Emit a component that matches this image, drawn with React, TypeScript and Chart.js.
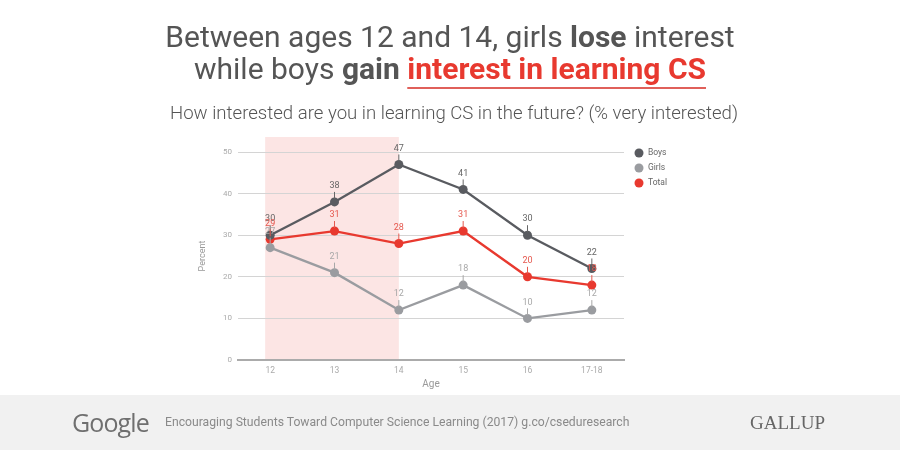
import React, { useEffect, useRef } from "react";
import { Chart, registerables } from "chart.js";
Chart.register(...registerables);

const ages = ["12", "13", "14", "15", "16", "17-18"];
const boys = [30, 38, 47, 41, 30, 22];
const girls = [27, 21, 12, 18, 10, 12];
const total = [29, 31, 28, 31, 20, 18];
const seriesNames = ["Boys", "Girls", "Total"];
const highlightFrom = "12";
const highlightTo = "14";

const lineColors = ["#595b60", "#9a9ca0", "#e8392f"];
const labelColors = ["#666666", "#a8a8a8", "#e5584e"];
const FONT = "Roboto, 'Open Sans', sans-serif";

const shadePlugin = {
  id: "shade",
  beforeDraw(chart: any) {
    const { ctx, scales, chartArea } = chart;
    const x = scales.x;
    const y = scales.y;
    const x0 = x.getPixelForValue(ages.indexOf(highlightFrom)) - 5;
    const x1 = x.getPixelForValue(ages.indexOf(highlightTo));
    const top = chartArea.top - 15;
    const bottom = y.getPixelForValue(0);
    ctx.save();
    ctx.fillStyle = "#fce5e4";
    ctx.fillRect(x0, top, x1 - x0, bottom - top);
    ctx.restore();
  },
};

const labelPlugin = {
  id: "ptlabels",
  afterDatasetsDraw(chart: any) {
    const { ctx } = chart;
    ctx.save();
    ctx.font = `9px ${FONT}`;
    ctx.textAlign = "center";
    ctx.textBaseline = "middle";
    chart.data.datasets.forEach((ds: any, i: number) => {
      const meta = chart.getDatasetMeta(i);
      meta.data.forEach((pt: any, j: number) => {
        const c = labelColors[i];
        const ly = pt.y - 16;
        ctx.strokeStyle = c;
        ctx.lineWidth = 1;
        ctx.beginPath();
        ctx.moveTo(pt.x, ly + 6);
        ctx.lineTo(pt.x, pt.y - 3);
        ctx.stroke();
        ctx.fillStyle = c;
        ctx.fillText(String(ds.data[j]), pt.x, ly);
      });
    });
    ctx.restore();
  },
};

const legendPlugin = {
  id: "customLegend",
  afterDraw(chart: any) {
    const { ctx } = chart;
    ctx.save();
    ctx.font = `8.5px ${FONT}`;
    ctx.textAlign = "left";
    ctx.textBaseline = "middle";
    seriesNames.forEach((name, i) => {
      const cy = 153 + i * 15;
      ctx.fillStyle = lineColors[i];
      ctx.beginPath();
      ctx.arc(639, cy, 4.5, 0, Math.PI * 2);
      ctx.fill();
      ctx.fillStyle = "#666";
      ctx.fillText(name, 648, cy);
    });
    ctx.restore();
  },
};

function LineChart() {
  const ref = useRef<HTMLCanvasElement>(null);
  useEffect(() => {
    if (!ref.current) return;
    const series = [boys, girls, total];
    const chart = new Chart(ref.current, {
      type: "line",
      data: {
        labels: ages,
        datasets: series.map((d, i) => ({
          label: seriesNames[i],
          data: d,
          borderColor: lineColors[i],
          backgroundColor: lineColors[i],
          pointBackgroundColor: lineColors[i],
          pointBorderWidth: 0,
          pointRadius: 4.5,
          borderWidth: 2.3,
          tension: 0,
          clip: false as any,
        })),
      },
      options: {
        responsive: false,
        animation: false,
        devicePixelRatio: 1,
        layout: { padding: { left: 195, right: 276, top: 152, bottom: 58 } },
        plugins: { legend: { display: false }, tooltip: { enabled: false } },
        scales: {
          x: {
            offset: true,
            grid: { display: false, drawTicks: false },
            border: { display: true, color: "#ababab", width: 2 },
            ticks: { color: "#aaa", font: { size: 8.5, family: FONT }, padding: 6 },
            title: { display: true, text: "Age", color: "#999", font: { size: 10, family: FONT }, padding: 2 },
            afterFit: (s: any) => { s.height = 32; },
          },
          y: {
            min: 0,
            max: 50,
            ticks: { stepSize: 10, color: "#aaa", font: { size: 8, family: FONT }, padding: 6 },
            grid: {
              drawTicks: false,
              color: (c: any) => (c.tick && c.tick.value === 0 ? "rgba(0,0,0,0)" : "#d4d4d4"),
              lineWidth: 1,
            },
            border: { display: false },
            title: { display: true, text: "Percent", color: "#999", font: { size: 9, family: FONT }, padding: 2 },
            afterFit: (s: any) => { s.width = 43; },
          },
        },
      },
      plugins: [shadePlugin, labelPlugin, legendPlugin],
    });
    return () => chart.destroy();
  }, []);
  return <canvas ref={ref} width={900} height={450} style={{ position: "absolute", left: 0, top: 0, width: 900, height: 450 }} />;
}

export default function App() {
  return (
    <div style={{ position: "fixed", left: 0, top: 0, width: 900, height: 450, background: "#fff", overflow: "hidden", fontFamily: FONT }}>
      <div style={{ position: "absolute", left: 0, top: 395, width: 900, height: 55, background: "#f1f1f1" }} />
      <LineChart />
      <div style={{ position: "absolute", left: 0, top: 20, width: 900, textAlign: "center", fontSize: 30, lineHeight: "34px", color: "#555" }}>
        Between ages 12 and 14, girls <b style={{ fontWeight: 700 }}>lose</b> interest
      </div>
      <div style={{ position: "absolute", left: 0, top: 52, width: 900, textAlign: "center", fontSize: 30, lineHeight: "34px", color: "#555" }}>
        while boys <b style={{ fontWeight: 700 }}>gain</b>{" "}
        <span style={{ color: "#e8392f", fontWeight: 700, textDecoration: "underline", textDecorationThickness: "2px", textUnderlineOffset: "8px", textDecorationColor: "#e0605a" }}>
          interest in learning CS
        </span>
      </div>
      <div style={{ position: "absolute", left: 4, top: 102, width: 900, textAlign: "center", fontSize: 18.6, lineHeight: "22px", color: "#555", fontWeight: 300 }}>
        How interested are you in learning CS in the future? (% very interested)
      </div>
      <div style={{ position: "absolute", left: 72, top: 406, fontSize: 25, lineHeight: "32px", color: "#6f6f6f", fontFamily: "'Open Sans', sans-serif", fontWeight: 500, letterSpacing: -0.9 }}>
        Google
      </div>
      <div style={{ position: "absolute", left: 165, top: 414, fontSize: 12.2, lineHeight: "16px", color: "#8a8a8a" }}>
        Encouraging Students Toward Computer Science Learning (2017) g.co/cseduresearch
      </div>
      <div style={{ position: "absolute", left: 750, top: 411, fontSize: 19, lineHeight: "24px", color: "#666", fontFamily: "'Liberation Serif', serif" }}>
        GALLUP
      </div>
    </div>
  );
}
